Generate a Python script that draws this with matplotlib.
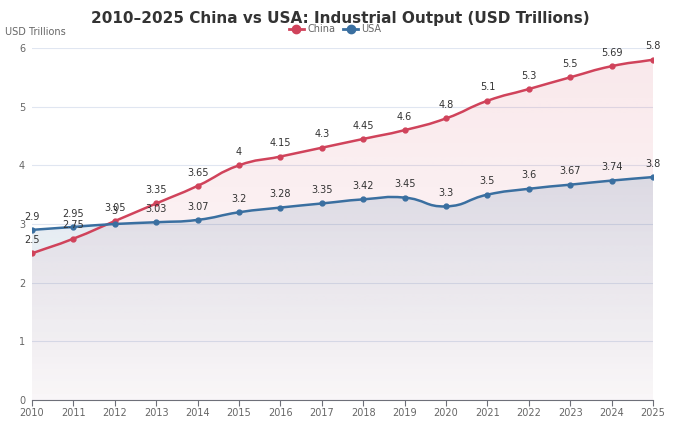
import numpy as np
import matplotlib.pyplot as plt
from matplotlib.path import Path
from matplotlib.patches import PathPatch
from matplotlib.lines import Line2D

# data
years = list(range(2010, 2026))
china = [2.5, 2.75, 3.05, 3.35, 3.65, 4, 4.15, 4.3, 4.45, 4.6, 4.8, 5.1, 5.3, 5.5, 5.69, 5.8]
usa = [2.9, 2.95, 3.0, 3.03, 3.07, 3.2, 3.28, 3.35, 3.42, 3.45, 3.3, 3.5, 3.6, 3.67, 3.74, 3.8]
china_labels = ['2.5', '2.75', '3.05', '3.35', '3.65', '4', '4.15', '4.3', '4.45', '4.6',
                '4.8', '5.1', '5.3', '5.5', '5.69', '5.8']
usa_labels = ['2.9', '2.95', '3', '3.03', '3.07', '3.2', '3.28', '3.35', '3.42', '3.45',
              '3.3', '3.5', '3.6', '3.67', '3.74', '3.8']

RED = '#d0435b'
BLUE = '#3a6fa0'


def smooth_verts(xs, ys, sx, sy, smooth=0.5):
    # bezier control points like echarts smooth line (computed in pixel-ish space)
    px = np.array(xs, float) * sx
    py = np.array(ys, float) * sy
    n = len(px)
    verts = [(px[0], py[0])]
    codes = [Path.MOVETO]
    cps = []
    for i in range(n):
        prev = (px[max(i - 1, 0)], py[max(i - 1, 0)])
        nxt = (px[min(i + 1, n - 1)], py[min(i + 1, n - 1)])
        vx, vy = nxt[0] - prev[0], nxt[1] - prev[1]
        d0 = np.hypot(px[i] - prev[0], py[i] - prev[1])
        d1 = np.hypot(nxt[0] - px[i], nxt[1] - py[i])
        tot = d0 + d1 if d0 + d1 > 0 else 1
        cb = (px[i] - vx * smooth * d0 / tot, py[i] - vy * smooth * d0 / tot)
        ca = (px[i] + vx * smooth * d1 / tot, py[i] + vy * smooth * d1 / tot)
        cps.append((cb, ca))
    for i in range(1, n):
        verts += [cps[i - 1][1], cps[i][0], (px[i], py[i])]
        codes += [Path.CURVE4] * 3
    verts = [(x / sx, y / sy) for x, y in verts]
    return verts, codes


fig = plt.figure(figsize=(6.8, 4.28), dpi=100)
ax = fig.add_axes([32 / 680, 28 / 428, 621 / 680, 352 / 428])

sx, sy = 41.4, 58.7
x0, x1 = years[0], years[-1]

for vals, color, a_top, a_bot, z in [(china, RED, 0.12, 0.03, 1), (usa, BLUE, 0.16, 0.02, 2)]:
    verts, codes = smooth_verts(years, vals, sx, sy)
    # area (gradient clipped to curve)
    area_v = verts + [(x1, 0), (x0, 0), verts[0]]
    area_c = codes + [Path.LINETO, Path.LINETO, Path.CLOSEPOLY]
    patch = PathPatch(Path(area_v, area_c), facecolor='none', edgecolor='none')
    ax.add_patch(patch)
    rgb = np.array(plt.matplotlib.colors.to_rgb(color))
    top = max(vals)
    grad = np.linspace(a_top, a_bot, 200)[:, None]
    img = np.zeros((200, 1, 4))
    img[..., :3] = rgb
    img[..., 3] = grad
    im = ax.imshow(img, extent=[x0, x1, 0, top], aspect='auto', origin='upper',
                   zorder=z, interpolation='bilinear')
    im.set_clip_path(patch)
    line = PathPatch(Path(verts, codes), facecolor='none', edgecolor=color, lw=1.8, zorder=z + 3)
    ax.add_patch(line)
    ax.plot(years, vals, 'o', color=color, ms=3.5, zorder=z + 5)

for x, v, t in zip(years, china, china_labels):
    ax.annotate(t, (x, v), xytext=(0, 6), textcoords='offset points', ha='center',
                va='bottom', fontsize=7, color='#333333', zorder=10)
for x, v, t in zip(years, usa, usa_labels):
    ax.annotate(t, (x, v), xytext=(0, 6), textcoords='offset points', ha='center',
                va='bottom', fontsize=7, color='#333333', zorder=10)

ax.set_xlim(x0, x1)
ax.set_ylim(0, 6)
ax.set_xticks(years)
ax.set_xticklabels([str(y) for y in years])
ax.set_yticks(range(0, 7))
ax.grid(axis='y', color='#e0e6f1', lw=0.8)
ax.set_axisbelow(True)
for s in ['top', 'right', 'left']:
    ax.spines[s].set_visible(False)
ax.spines['bottom'].set_color('#6e7079')
ax.tick_params(axis='x', colors='#6e7079', labelcolor='#666666', labelsize=7, length=4, pad=2)
ax.tick_params(axis='y', length=0, labelcolor='#666666', labelsize=7, pad=5)

fig.text(340 / 680, 1 - 19 / 428, '2010\u20132025 China vs USA: Industrial Output (USD Trillions)',
         ha='center', va='center', fontsize=11, fontweight='bold', color='#333333')
fig.text(5 / 680, 1 - 32 / 428, 'USD Trillions', ha='left', va='center', fontsize=7, color='#666666')

handles = [Line2D([], [], color=RED, marker='o', ms=6, lw=2),
           Line2D([], [], color=BLUE, marker='o', ms=6, lw=2)]
fig.legend(handles, ['China', 'USA'], loc='center', bbox_to_anchor=(335 / 680, 1 - 29 / 428),
           ncol=2, frameon=False, fontsize=7, handlelength=1.6, handletextpad=0.3,
           columnspacing=0.8, labelcolor='#666666')

fig.savefig('out.png', dpi=100)
